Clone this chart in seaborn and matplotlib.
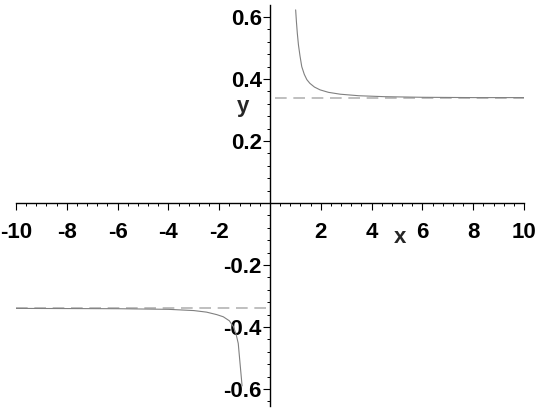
import numpy as np
import pandas as pd
import matplotlib
matplotlib.use("Agg")
import matplotlib.pyplot as plt
import seaborn as sns
from matplotlib.ticker import MultipleLocator, FixedLocator

# points, right branch
right_x = [1.01, 1.04, 1.075, 1.12, 1.18, 1.25, 1.35, 1.45, 1.57, 1.75, 1.97, 2.3, 2.76, 3.5, 4.5, 6.0, 8.0, 10.0]
right_y = [0.623, 0.585, 0.548, 0.51, 0.475, 0.44, 0.415, 0.398, 0.386, 0.374, 0.365, 0.357, 0.351, 0.346, 0.343, 0.341, 0.340, 0.340]

# left branch
left_x = [-10.0, -6.0, -4.0, -3.0, -2.5, -2.1, -1.84, -1.6, -1.44, -1.33, -1.25, -1.18, -1.12, -1.1]
left_y = [-0.340, -0.341, -0.343, -0.347, -0.352, -0.36, -0.367, -0.38, -0.399, -0.425, -0.453, -0.517, -0.571, -0.59]

# dashed asymptotes
asym_right_x = [0.2, 10.0]
asym_left_x = [-10.0, -0.1]
asym_y = 0.34

x_ticks = [-10, -8, -6, -4, -2, 2, 4, 6, 8, 10]
y_ticks = [-0.6, -0.4, -0.2, 0.2, 0.4, 0.6]

sns.set_style("white")
plt.rcParams["font.family"] = ["Liberation Sans", "DejaVu Sans"]

fig = plt.figure(figsize=(5.4, 4.11), dpi=100)
ax = fig.add_axes([16 / 540, 5 / 411, 508 / 540, 401 / 411])

curve_col = "#808080"
dash_col = "#b4b4b4"

sns.lineplot(x=asym_right_x, y=[asym_y, asym_y], ax=ax, color=dash_col, lw=1.2,
             linestyle=(0, (7, 4)), sort=False)
sns.lineplot(x=asym_left_x, y=[-asym_y, -asym_y], ax=ax, color=dash_col, lw=1.2,
             linestyle=(0, (7, 4)), sort=False)
sns.lineplot(x=right_x, y=right_y, ax=ax, color=curve_col, lw=0.8, sort=False)
sns.lineplot(x=left_x, y=left_y, ax=ax, color=curve_col, lw=0.8, sort=False)

ax.set_xlim(-10, 10)
ax.set_ylim((203 - 406) / 310, (203 - 5) / 310)

# axes through the origin, Maple style
for s in ["top", "right"]:
    ax.spines[s].set_visible(False)
ax.spines["left"].set_position(("data", 0))
ax.spines["bottom"].set_position(("data", 0))
for s in ["left", "bottom"]:
    ax.spines[s].set_linewidth(1.0)
    ax.spines[s].set_color("black")

ax.xaxis.set_major_locator(FixedLocator(x_ticks))
ax.yaxis.set_major_locator(FixedLocator(y_ticks))
ax.xaxis.set_minor_locator(MultipleLocator(0.4))
ax.yaxis.set_minor_locator(MultipleLocator(0.04))
ax.set_xticklabels([str(v) for v in x_ticks])
ax.set_yticklabels([f"{v:.1f}" for v in y_ticks])
ax.tick_params(axis="both", which="major", direction="out", length=5, width=0.8,
               labelsize=16, colors="black")
ax.tick_params(axis="both", which="minor", direction="out", length=2.5, width=0.7,
               colors="black")
ax.tick_params(axis="x", which="both", bottom=True)
ax.tick_params(axis="y", which="both", left=True)
ax.tick_params(axis="x", which="major", pad=9)
ax.tick_params(axis="y", which="major", pad=1)
for lab in ax.get_xticklabels() + ax.get_yticklabels():
    lab.set_clip_on(False)
    lab.set_fontweight("bold")

ax.text(5.1, -0.11, "x", fontsize=16, fontweight="bold", ha="center", va="center")
ax.text(-1.05, 0.31, "y", fontsize=16, fontweight="bold", ha="center", va="center")

fig.savefig("out.png", dpi=100)
